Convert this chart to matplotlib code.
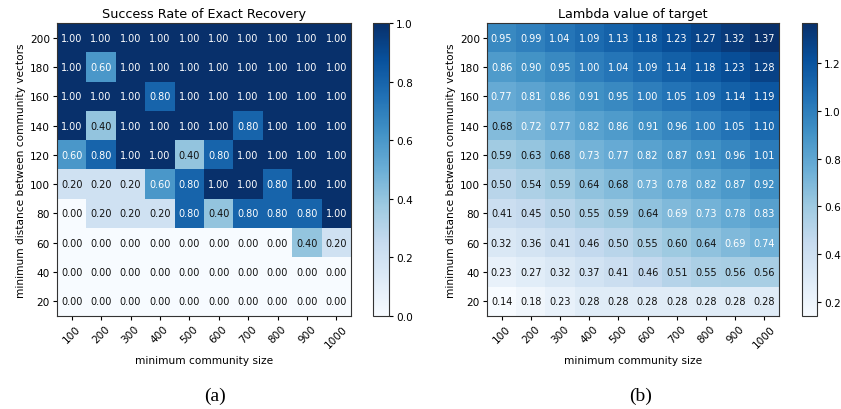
import numpy as np
import matplotlib
matplotlib.use("Agg")
import matplotlib.pyplot as plt

sizes = ["100", "200", "300", "400", "500", "600", "700", "800", "900", "1000"]
dists = ["200", "180", "160", "140", "120", "100", "80", "60", "40", "20"]

success = np.array([
    [1.00, 1.00, 1.00, 1.00, 1.00, 1.00, 1.00, 1.00, 1.00, 1.00],
    [1.00, 0.60, 1.00, 1.00, 1.00, 1.00, 1.00, 1.00, 1.00, 1.00],
    [1.00, 1.00, 1.00, 0.80, 1.00, 1.00, 1.00, 1.00, 1.00, 1.00],
    [1.00, 0.40, 1.00, 1.00, 1.00, 1.00, 0.80, 1.00, 1.00, 1.00],
    [0.60, 0.80, 1.00, 1.00, 0.40, 0.80, 1.00, 1.00, 1.00, 1.00],
    [0.20, 0.20, 0.20, 0.60, 0.80, 1.00, 1.00, 0.80, 1.00, 1.00],
    [0.00, 0.20, 0.20, 0.20, 0.80, 0.40, 0.80, 0.80, 0.80, 1.00],
    [0.00, 0.00, 0.00, 0.00, 0.00, 0.00, 0.00, 0.00, 0.40, 0.20],
    [0.00, 0.00, 0.00, 0.00, 0.00, 0.00, 0.00, 0.00, 0.00, 0.00],
    [0.00, 0.00, 0.00, 0.00, 0.00, 0.00, 0.00, 0.00, 0.00, 0.00],
])

lam = np.array([
    [0.95, 0.99, 1.04, 1.09, 1.13, 1.18, 1.23, 1.27, 1.32, 1.37],
    [0.86, 0.90, 0.95, 1.00, 1.04, 1.09, 1.14, 1.18, 1.23, 1.28],
    [0.77, 0.81, 0.86, 0.91, 0.95, 1.00, 1.05, 1.09, 1.14, 1.19],
    [0.68, 0.72, 0.77, 0.82, 0.86, 0.91, 0.96, 1.00, 1.05, 1.10],
    [0.59, 0.63, 0.68, 0.73, 0.77, 0.82, 0.87, 0.91, 0.96, 1.01],
    [0.50, 0.54, 0.59, 0.64, 0.68, 0.73, 0.78, 0.82, 0.87, 0.92],
    [0.41, 0.45, 0.50, 0.55, 0.59, 0.64, 0.69, 0.73, 0.78, 0.83],
    [0.32, 0.36, 0.41, 0.46, 0.50, 0.55, 0.60, 0.64, 0.69, 0.74],
    [0.23, 0.27, 0.32, 0.37, 0.41, 0.46, 0.51, 0.55, 0.56, 0.56],
    [0.14, 0.18, 0.23, 0.28, 0.28, 0.28, 0.28, 0.28, 0.28, 0.28],
])

titles = ["Success Rate of Exact Recovery", "Lambda value of target"]
captions = ["(a)", "(b)"]
cbar_ticks = [[0.0, 0.2, 0.4, 0.6, 0.8, 1.0], [0.2, 0.4, 0.6, 0.8, 1.0, 1.2]]

W, H = 841, 410
fig = plt.figure(figsize=(W / 100, H / 100), dpi=100)

def px(x0, y0, x1, y1):
    return [x0 / W, (H - y1) / H, (x1 - x0) / W, (y1 - y0) / H]

panels = [
    (success, (57, 24, 351, 317), (373, 24, 389, 317), 215),
    (lam, (487, 24, 779, 317), (802, 24, 817, 317), 641),
]

for i, (data, axbox, cbbox, capx) in enumerate(panels):
    ax = fig.add_axes(px(*axbox))
    im = ax.imshow(data, cmap="Blues", interpolation="nearest", aspect="auto")
    ax.set_title(titles[i], fontsize=9.2, pad=4)
    ax.set_xticks(range(len(sizes)))
    ax.set_xticklabels(sizes, rotation=45, fontsize=7.6)
    ax.set_yticks(range(len(dists)))
    ax.set_yticklabels(dists, fontsize=7.6)
    ax.tick_params(length=3, width=0.8, pad=2)
    ax.set_xlabel("minimum community size", fontsize=7.6, labelpad=4)
    ax.set_ylabel("minimum distance between community vectors", fontsize=7.6, labelpad=3)
    for s in ax.spines.values():
        s.set_color("#333333")
    thresh = data.max() / 2.0
    for r in range(data.shape[0]):
        for c in range(data.shape[1]):
            v = data[r, c]
            ax.text(c, r, f"{v:.2f}", ha="center", va="center", fontsize=7.0,
                    color="white" if v > thresh else "#111111")
    cax = fig.add_axes(px(*cbbox))
    cb = fig.colorbar(im, cax=cax, ticks=cbar_ticks[i])
    cb.ax.tick_params(labelsize=7.6, length=3, width=0.8, pad=2)
    cb.outline.set_edgecolor("#333333")
    fig.text(capx / W, 1 - 396 / H, captions[i], ha="center", va="center",
             fontsize=14, family="Liberation Serif")

fig.savefig("out.png", dpi=100)
